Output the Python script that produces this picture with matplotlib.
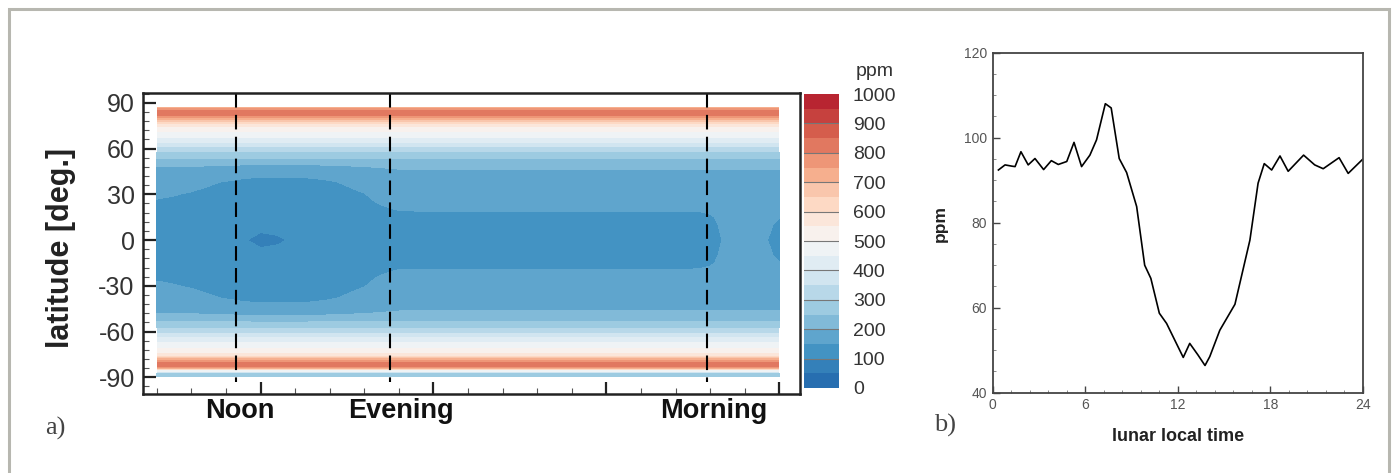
import numpy as np
import matplotlib
matplotlib.use("Agg")
import matplotlib.pyplot as plt
import matplotlib.colors as mcolors
from matplotlib.patches import Rectangle
from matplotlib.ticker import MultipleLocator

plt.rcParams["font.family"] = ["Liberation Sans", "DejaVu Sans"]
plt.rcParams["axes.unicode_minus"] = False

# ---- panel a: abundance map (lat x local-time column) ----
lat_nodes = [-89.5, -87.5, -86.5, -85.5, -84.5, -83, -81, -79, -77, -75,
             -70, -65, -60, -55, -50, -46, -42, -38, -34, -30,
             -25, -20, -15, -10, 0, 10, 15, 20, 25, 30,
             34, 38, 42, 46, 50, 55, 60, 65, 70, 75,
             78, 80, 82, 84, 86, 87.5]
base_ppm = [260, 280, 460, 500, 700, 800, 830, 780, 660, 560,
            490, 420, 330, 265, 222, 198, 190, 182, 177, 172,
            168, 165, 163, 162, 160, 162, 163, 165, 168, 172,
            177, 182, 190, 198, 222, 265, 330, 420, 490, 560,
            660, 750, 820, 840, 790, 680]

# dips of the equatorial core, given against |latitude|
abs_lat = [0, 10, 15, 20, 25, 30, 34, 38, 42, 46, 50, 55]
eq_dip = [-38, -32, -25, -12, -3, 0, 0, 0, 0, 0, 0, 0]
noon_dip = [-45, -44, -43, -42, -42, -42, -41, -41, -38, -25, -18, 0]
spot_dip = [-25, -8, 0, 0, 0, 0, 0, 0, 0, 0, 0, 0]

lon_nodes = [-60, -50, -40, -30, -20, -10, 0, 10, 20, 30,
             40, 50, 60, 70, 80, 90, 120, 160, 200, 240,
             250, 255, 260, 265, 270, 280, 290, 300]
noon_w = [0.45, 0.5, 0.58, 0.7, 0.82, 0.93, 1, 1, 1, 0.95,
          0.85, 0.7, 0.55, 0.3, 0.05, 0, 0, 0, 0, 0,
          0, 0, 0, 0, 0, 0, 0, 0]
eq_w = [0.3, 0.25, 0.2, 0.12, 0.05, 0, 0, 0, 0, 0,
        0.05, 0.15, 0.3, 0.6, 0.95, 1, 1, 1, 1, 1,
        1, 0.9, 0.7, 0.35, 0.1, 0, 0.15, 0.5]
spot_w = [0, 0, 0, 0, 0.2, 0.6, 1, 0.8, 0.4, 0,
          0, 0, 0, 0, 0, 0, 0, 0, 0, 0,
          0, 0, 0, 0, 0, 0, 0, 0]

marker_x = [-14, 75, 258]
marker_names = ["Noon", "Evening", "Morning"]
label_x = [-12, 81, 262]

cbar_ticks = list(range(0, 1001, 100))

# ---- panel b: mean abundance vs lunar local time ----
llt = [0.37, 0.8, 1.25, 1.45, 1.83, 2.3, 2.74, 3.3, 3.8, 4.25,
       4.8, 5.27, 5.76, 6.3, 6.73, 7.3, 7.68, 8.2, 8.68, 9.33,
       9.85, 10.25, 10.8, 11.27, 12.35, 12.77, 13.3, 13.76, 14.07, 14.72,
       15.7, 16.67, 17.2, 17.6, 18.08, 18.62, 19.15, 20.15, 20.87, 21.42,
       22.45, 23.04, 24.0]
ppm = [92.4, 93.6, 93.3, 93.2, 96.7, 93.6, 95.1, 92.5, 94.6, 93.7,
       94.4, 98.9, 93.2, 95.9, 99.5, 108.0, 107.0, 95.1, 91.8, 83.8,
       70.0, 66.9, 58.7, 56.3, 48.3, 51.6, 48.9, 46.4, 48.5, 54.7,
       60.8, 75.9, 89.3, 93.9, 92.4, 95.7, 92.1, 95.9, 93.6, 92.7,
       95.3, 91.6, 95.0]

W, H = 1396, 473
fig = plt.figure(figsize=(W / 100, H / 100), dpi=100)

# grey frame around the whole figure
fig.patches.append(Rectangle((9 / W, -0.05), 1380 / W, 1.05 - 9 / H,
                             transform=fig.transFigure, fill=False,
                             edgecolor="#b7b7b0", linewidth=2.2))

ax = fig.add_axes([143 / W, 1 - 394 / H, 657 / W, 300.7 / H])
cax = fig.add_axes([804 / W, 1 - 388 / H, 35 / W, 294 / H])
axb = fig.add_axes([992.7 / W, 1 - 392.7 / H, 370.3 / W, 340 / H])

cmap = mcolors.LinearSegmentedColormap.from_list(
    "rdbu_cut", plt.get_cmap("RdBu_r")(np.linspace(0.1, 0.9, 256)))
levels = np.arange(0, 1001, 50)

lat = np.array(lat_nodes)
a = np.abs(lat)
col = lambda prof: np.interp(a, abs_lat, prof, right=0)[:, None]
Z = (np.array(base_ppm)[:, None]
     + col(noon_dip) * np.array(noon_w)[None, :]
     + col(eq_dip) * np.array(eq_w)[None, :]
     + col(spot_dip) * np.array(spot_w)[None, :])

cs = ax.contourf(lon_nodes, lat_nodes, Z, levels=levels, cmap=cmap)
for x in marker_x:
    ax.plot([x, x], [96.3, -93], color="black", lw=1.5, dashes=(7, 3.5))
ax.set_xlim(-68, 312)
ax.set_ylim(-101, 96.3)
ax.set_yticks(range(-90, 91, 30))
ax.yaxis.set_minor_locator(MultipleLocator(6))
ax.xaxis.set_major_locator(MultipleLocator(100))
ax.xaxis.set_minor_locator(MultipleLocator(20))
ax.tick_params(which="major", direction="in", length=9, width=1.6,
               color="#222", labelsize=18, labelcolor="#333", pad=6)
ax.tick_params(which="minor", direction="in", length=4, width=0.8,
               color="#555")
ax.tick_params(axis="x", labelbottom=False)
for s in ax.spines.values():
    s.set_linewidth(1.8)
    s.set_color("#222")
for x, name in zip(label_x, marker_names):
    ax.text(x, -103.5, name, ha="center", va="top", fontsize=19.5,
            fontweight="bold", color="#111")

cb = fig.colorbar(cs, cax=cax, ticks=cbar_ticks)
cb.outline.set_visible(False)
cb.ax.tick_params(length=0, labelsize=14, labelcolor="#333", pad=10)
for t in cbar_ticks[1:-1]:
    cb.ax.axhline(t, color="#777", lw=0.8)
fig.text(875 / W, 1 - 71 / H, "ppm", ha="center", va="center",
         fontsize=14, color="#333")

fig.text(61 / W, 1 - 248 / H, "latitude [deg.]", rotation=90,
         ha="center", va="center", fontsize=22, fontweight="bold",
         color="#222")
fig.text(55 / W, 1 - 428 / H, "a)", ha="center", va="center",
         fontsize=19, family="Liberation Serif", color="#444")

# panel b
axb.plot(llt, ppm, color="black", lw=1.2)
axb.set_xlim(0, 24)
axb.set_ylim(40, 120)
axb.xaxis.set_major_locator(MultipleLocator(6))
axb.xaxis.set_minor_locator(MultipleLocator(1.2))
axb.yaxis.set_major_locator(MultipleLocator(20))
axb.yaxis.set_minor_locator(MultipleLocator(5))
axb.tick_params(which="major", direction="in", length=5, width=1,
                color="#444", labelsize=10, labelcolor="#555", pad=4)
axb.tick_params(which="minor", direction="in", length=2.5, width=0.6,
                color="#777")
for s in axb.spines.values():
    s.set_linewidth(1.3)
    s.set_color("#444")
fig.text(940 / W, 1 - 223 / H, "ppm", rotation=90, ha="center",
         va="center", fontsize=12.5, fontweight="bold", color="#222")
fig.text(1178 / W, 1 - 436 / H, "lunar local time", ha="center",
         va="center", fontsize=13, fontweight="bold", color="#222")
fig.text(945 / W, 1 - 425 / H, "b)", ha="center", va="center",
         fontsize=19, family="Liberation Serif", color="#444")

fig.savefig("out.png", dpi=100)
